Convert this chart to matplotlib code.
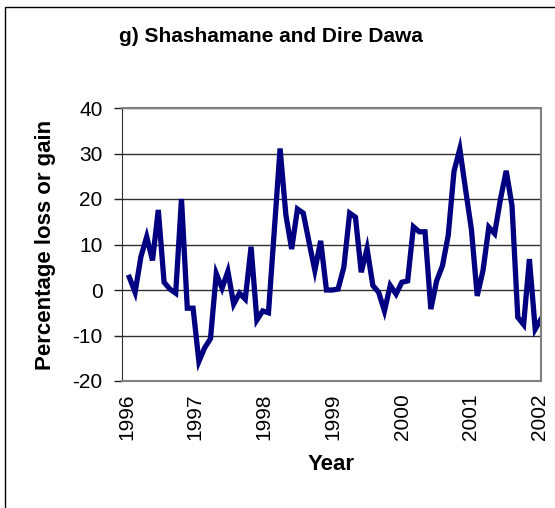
import numpy as np
import matplotlib
matplotlib.use('Agg')
import matplotlib.pyplot as plt
from matplotlib.patches import Rectangle

plt.rcParams['font.family'] = ['Liberation Sans', 'DejaVu Sans']
plt.rcParams['axes.unicode_minus'] = False

# monthly percentage loss or gain, Jan 1996 - Dec 2001
values = [2.8, -0.5, 7.3, 11.7, 6.5, 17.6, 1.7, 0.2, -0.7, 20.0, -4.0, -4.0,
          -15.7, -12.7, -10.7, 3.6, 0.4, 4.1, -3.1, -0.7, -2.0, 9.5, -6.6, -4.6,
          -5.0, 13.0, 31.1, 16.5, 9.0, 17.8, 16.9, 10.5, 4.3, 10.8, 0.0, 0.0,
          0.2, 5.0, 16.9, 16.0, 3.9, 9.1, 1.0, -0.5, -4.6, 1.0, -0.9, 1.7,
          2.0, 13.9, 12.8, 12.8, -4.2, 2.0, 5.3, 12.0, 26.1, 31.0, 22.0, 13.3,
          -1.3, 4.3, 13.8, 12.4, 19.9, 26.2, 18.5, -6.0, -7.6, 6.8, -8.6, -6.4]
year_labels = ['1996', '1997', '1998', '1999', '2000', '2001', '2002']
months = np.arange(len(values))

fig = plt.figure(figsize=(5.55, 5.08), dpi=100)
ax = fig.add_axes([122/555, 1 - 381/508, (541-122)/555, (381-108)/508])

ax.plot(months, values, color='#000080', linewidth=3.8, solid_joinstyle='miter')

ax.set_ylim(-20, 40)
ax.set_yticks(range(-20, 41, 10))
ax.set_xlim(-1.26, len(values) - 1)
ax.set_xticks(np.linspace(-0.5, len(values) - 1.2, len(year_labels)))
ax.set_xticklabels(year_labels, rotation=90)
ax.tick_params(axis='y', labelsize=15, direction='out', length=6, width=1,
               color='#202020', pad=8)
ax.tick_params(axis='x', labelsize=15, length=0, pad=9)
ax.grid(axis='y', color='#303030', linewidth=1)
ax.set_axisbelow(True)
for s in ['top', 'right', 'bottom']:
    ax.spines[s].set_color('#808080')
    ax.spines[s].set_linewidth(1.5)
ax.spines['left'].set_color('#303030')

ax.set_ylabel('Percentage loss or gain', fontsize=16, fontweight='bold', labelpad=12)
ax.set_xlabel('Year', fontsize=16, fontweight='bold', labelpad=10)
fig.text(271/555, 1 - 37/508, 'g) Shashamane and Dire Dawa', fontsize=15,
         fontweight='bold', ha='center', va='center')

# outer chart border, cut off at right and bottom
fig.patches.append(Rectangle((5/555, -0.1), 1.2, 1.1 - 7/508, transform=fig.transFigure,
                             fill=False, edgecolor='black', linewidth=1))

fig.savefig('out.png', dpi=100)
